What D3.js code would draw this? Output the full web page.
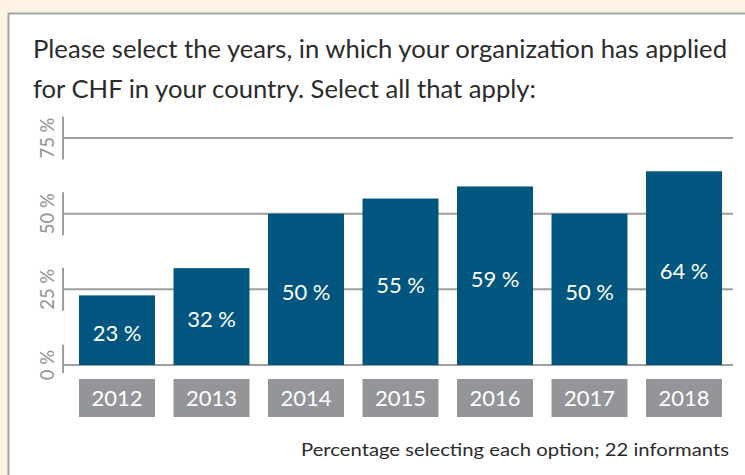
<!DOCTYPE html>
<html>
<head>
<meta charset="utf-8">
<script src="https://cdn.jsdelivr.net/npm/d3@7"></script>
<style>
  html, body { margin: 0; padding: 0; background: #fcf3e3; }
  svg { display: block; }
</style>
</head>
<body>
<svg id="chart" width="745" height="475"></svg>
<script>
// data
var years = ["2012", "2013", "2014", "2015", "2016", "2017", "2018"];
var shares = [23, 32, 50, 55, 59, 50, 64];
var yTicks = [0, 25, 50, 75];
var titleLines = ["Please select the years, in which your organization has applied",
                  "for CHF in your country. Select all that apply:"];
var footnote = "Percentage selecting each option; 22 informants";

var svg = d3.select("#chart");
var font = "Lato, 'Open Sans', sans-serif";

// white panel with grey border running off the right/bottom edges
svg.append("rect")
  .attr("x", 8.5).attr("y", 13.5)
  .attr("width", 760).attr("height", 480)
  .attr("fill", "#fff")
  .attr("stroke", "#a4a4a4")
  .attr("stroke-width", 2);

// title
var titleW = [694, 503];
svg.selectAll("text.title")
  .data(titleLines)
  .enter().append("text")
  .attr("class", "title")
  .attr("x", 33)
  .attr("y", function(d, i) { return 58 + i * 39.5; })
  .attr("textLength", function(d, i) { return titleW[i]; })
  .attr("lengthAdjust", "spacingAndGlyphs")
  .attr("font-family", font)
  .attr("font-size", "25px")
  .attr("fill", "#2b2b2b")
  .text(function(d) { return d; });

var x = d3.scaleBand()
  .domain(years)
  .range([69.75, 731.25])
  .paddingInner(0.196)
  .paddingOuter(0.098);

var y = d3.scaleLinear()
  .domain([0, 75])
  .range([365, 138]);

var axisX = 63;
var grey = "#9e9e9e";

// gridlines
svg.selectAll("line.grid")
  .data(yTicks)
  .enter().append("line")
  .attr("class", "grid")
  .attr("x1", axisX).attr("x2", 733)
  .attr("y1", function(d) { return y(d); })
  .attr("y2", function(d) { return y(d); })
  .attr("stroke", grey)
  .attr("stroke-width", 2);

// rotated tick labels with short bracket segments
var tickG = svg.selectAll("g.tick")
  .data(yTicks)
  .enter().append("g")
  .attr("class", "tick")
  .attr("transform", function(d) { return "translate(0," + y(d) + ")"; });

tickG.append("text")
  .attr("transform", "translate(54,0) rotate(-90)")
  .attr("text-anchor", "middle")
  .attr("font-family", font)
  .attr("font-size", "18.5px")
  .attr("font-weight", 500)
  .attr("fill", "#989898")
  .text(function(d) { return d + "\u202f%"; });

tickG.each(function(d) {
  var g = d3.select(this);
  var len = g.select("text").node().getComputedTextLength();
  var half = len / 2 + 1;
  var y1 = -half, y2 = half;
  if (d === 0) { y1 = -half - 4; y2 = 8; }
  g.append("line")
    .attr("x1", axisX).attr("x2", axisX)
    .attr("y1", y1).attr("y2", y2)
    .attr("stroke", grey)
    .attr("stroke-width", 2);
});

// bars
svg.selectAll("rect.bar")
  .data(shares)
  .enter().append("rect")
  .attr("class", "bar")
  .attr("x", function(d, i) { return x(years[i]); })
  .attr("y", function(d) { return y(d); })
  .attr("width", x.bandwidth())
  .attr("height", function(d) { return y(0) - y(d); })
  .attr("fill", "#00567f");

// value labels
svg.selectAll("text.val")
  .data(shares)
  .enter().append("text")
  .attr("class", "val")
  .attr("x", function(d, i) { return x(years[i]) + x.bandwidth() / 2; })
  .attr("y", function(d) { return (y(d) + y(0)) / 2 + 3; })
  .attr("dy", "0.36em")
  .attr("text-anchor", "middle")
  .attr("font-family", font)
  .attr("font-size", "22px")
  .attr("fill", "#fff")
  .text(function(d) { return d + "\u202f%"; });

// year boxes
svg.selectAll("rect.yr")
  .data(years)
  .enter().append("rect")
  .attr("class", "yr")
  .attr("x", function(d) { return x(d); })
  .attr("y", 379)
  .attr("width", x.bandwidth())
  .attr("height", 38)
  .attr("fill", "#949598");

svg.selectAll("text.yr")
  .data(years)
  .enter().append("text")
  .attr("class", "yr")
  .attr("x", function(d) { return x(d) + x.bandwidth() / 2; })
  .attr("y", 398)
  .attr("dy", "0.36em")
  .attr("text-anchor", "middle")
  .attr("font-family", font)
  .attr("font-size", "22px")
  .attr("fill", "#fff")
  .text(function(d) { return d; });

// footnote
svg.append("text")
  .attr("x", 729)
  .attr("y", 456)
  .attr("text-anchor", "end")
  .attr("textLength", 428)
  .attr("lengthAdjust", "spacingAndGlyphs")
  .attr("font-family", font)
  .attr("font-size", "17.5px")
  .attr("fill", "#2b2b2b")
  .text(footnote);
</script>
</body>
</html>
